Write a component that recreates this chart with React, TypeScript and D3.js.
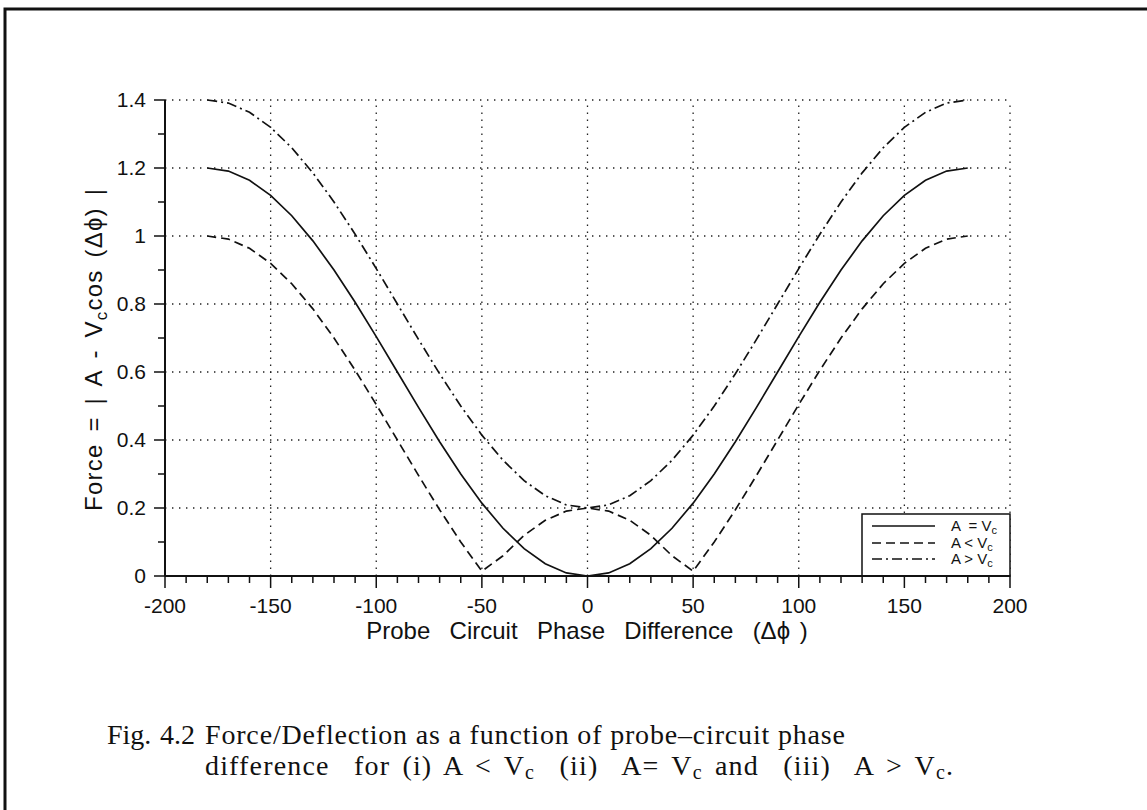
import React from 'react';
import * as d3 from 'd3';

// phase difference (degrees), sampled every 10
const phase = [-180, -170, -160, -150, -140, -130, -120, -110, -100, -90, -80, -70, -60, -50, -40, -30, -20, -10, 0,
  10, 20, 30, 40, 50, 60, 70, 80, 90, 100, 110, 120, 130, 140, 150, 160, 170, 180];

// A = Vc
const forceEqual = [1.2, 1.1909, 1.1638, 1.1196, 1.0596, 0.9857, 0.9, 0.8052, 0.7042, 0.6, 0.4958, 0.3948, 0.3, 0.2143,
  0.1404, 0.0804, 0.0362, 0.0091, 0, 0.0091, 0.0362, 0.0804, 0.1404, 0.2143, 0.3, 0.3948, 0.4958, 0.6, 0.7042, 0.8052,
  0.9, 0.9857, 1.0596, 1.1196, 1.1638, 1.1909, 1.2];
// A < Vc
const forceLess = [1.0, 0.9909, 0.9638, 0.9196, 0.8596, 0.7857, 0.7, 0.6052, 0.5042, 0.4, 0.2958, 0.1948, 0.1, 0.0143,
  0.0596, 0.1196, 0.1638, 0.1909, 0.2, 0.1909, 0.1638, 0.1196, 0.0596, 0.0143, 0.1, 0.1948, 0.2958, 0.4, 0.5042, 0.6052,
  0.7, 0.7857, 0.8596, 0.9196, 0.9638, 0.9909, 1.0];
// A > Vc
const forceGreater = [1.4, 1.3909, 1.3638, 1.3196, 1.2596, 1.1857, 1.1, 1.0052, 0.9042, 0.8, 0.6958, 0.5948, 0.5, 0.4143,
  0.3404, 0.2804, 0.2362, 0.2091, 0.2, 0.2091, 0.2362, 0.2804, 0.3404, 0.4143, 0.5, 0.5948, 0.6958, 0.8, 0.9042, 1.0052,
  1.1, 1.1857, 1.2596, 1.3196, 1.3638, 1.3909, 1.4];

const xTicks = [-200, -150, -100, -50, 0, 50, 100, 150, 200];
const xMinor = d3.range(-200, 201, 10);
const yTicks = [0, 0.2, 0.4, 0.6, 0.8, 1, 1.2, 1.4];
const yMinor = d3.range(0, 1.41, 0.1);
const legendNames = [' =', '<', '>'];

const sans = '"Liberation Sans", Arial, sans-serif';
const serif = '"Liberation Serif", "Times New Roman", serif';

const App: React.FC = () => {
  const x = d3.scaleLinear().domain([-200, 200]).range([165, 1010]);
  const y = d3.scaleLinear().domain([0, 1.4]).range([576, 100]);
  const line = (vals: number[]) =>
    d3.line<number>().x((_, i) => x(phase[i])).y(d => y(d))(vals) || '';

  const series = [
    { vals: forceEqual, dash: 'none' },
    { vals: forceLess, dash: '9,5' },
    { vals: forceGreater, dash: '10,4,2,4' },
  ];

  const lx0 = 872, lx1 = 935, ly = [526, 543, 559];

  return (
    <svg width={1147} height={810} style={{ position: 'absolute', left: 0, top: 0, background: '#fff' }}>
      {/* page frame */}
      <path d="M5,820 L5,9 L1160,9" fill="none" stroke="#111" strokeWidth={3} />

      {/* grid */}
      {xTicks.filter(t => t > -200).map(t => (
        <line key={'gx' + t} x1={x(t)} x2={x(t)} y1={y(0)} y2={y(1.4)} stroke="#222" strokeWidth={1.3} strokeDasharray="1.4,5.6" />
      ))}
      {yTicks.filter(t => t > 0).map(t => (
        <line key={'gy' + t} x1={x(-200)} x2={x(200)} y1={y(t)} y2={y(t)} stroke="#222" strokeWidth={1.3} strokeDasharray="1.4,5.6" />
      ))}

      {/* curves */}
      {series.map((s, i) => (
        <path key={i} d={line(s.vals)} fill="none" stroke="#111" strokeWidth={1.7} strokeDasharray={s.dash} />
      ))}

      {/* legend */}
      <rect x={862} y={514} width={x(200) - 862} height={y(0) - 514} fill="#fff" stroke="#111" strokeWidth={1.5} />
      {series.map((s, i) => (
        <g key={'lg' + i}>
          <line x1={lx0} x2={lx1} y1={ly[i]} y2={ly[i]} stroke="#111" strokeWidth={1.7} strokeDasharray={s.dash} />
          <text x={951} y={ly[i] + 5} fontFamily={sans} fontSize={15} fill="#111" style={{ whiteSpace: 'pre' }}>
            {'A ' + legendNames[i] + ' V'}
            <tspan fontSize={11} dy={3}>c</tspan>
          </text>
        </g>
      ))}

      {/* axes */}
      <line x1={x(-200)} x2={x(200)} y1={y(0)} y2={y(0)} stroke="#111" strokeWidth={2} />
      <line x1={x(-200)} x2={x(-200)} y1={y(0)} y2={y(1.4)} stroke="#111" strokeWidth={2} />
      {xMinor.map(t => (
        <line key={'xm' + t} x1={x(t)} x2={x(t)} y1={y(0)} y2={y(0) + (t % 50 === 0 ? 12 : 7)} stroke="#111" strokeWidth={1.5} />
      ))}
      {yMinor.map((t, i) => (
        <line key={'ym' + i} x1={x(-200) - (i % 2 === 0 ? 11 : 7)} x2={x(-200)} y1={y(t)} y2={y(t)} stroke="#111" strokeWidth={1.5} />
      ))}
      {xTicks.map(t => (
        <text key={'xl' + t} x={x(t)} y={613} textAnchor="middle" fontFamily={sans} fontSize={21} fill="#111">{t}</text>
      ))}
      {yTicks.map(t => (
        <text key={'yl' + t} x={146} y={y(t) + 7} textAnchor="end" fontFamily={sans} fontSize={21} fill="#111">{d3.format('~g')(t)}</text>
      ))}

      {/* axis titles */}
      <text x={587} y={639} textAnchor="middle" fontFamily={sans} fontSize={24} fill="#111" style={{ whiteSpace: 'pre', wordSpacing: 3 }}>
        {'Probe  Circuit  Phase  Difference  (Δϕ )'}
      </text>
      <text transform="translate(102,350) rotate(-90)" textAnchor="middle" fontFamily={sans} fontSize={24} fill="#111"
        style={{ whiteSpace: 'pre', wordSpacing: 4 }} textLength={322} lengthAdjust="spacing">
        {'Force = | A - V'}
        <tspan fontSize={17} dy={5}>c</tspan>
        <tspan dy={-5}>{'cos (Δϕ) |'}</tspan>
      </text>

      {/* caption */}
      <text x={107} y={744} fontFamily={serif} fontSize={28} fill="#111">Fig.</text>
      <text x={160} y={744} fontFamily={serif} fontSize={28} fill="#111">4.2</text>
      <text x={205} y={744} fontFamily={serif} fontSize={28} fill="#111" textLength={640} lengthAdjust="spacing">
        Force/Deflection as a function of probe–circuit phase
      </text>
      <text x={205} y={775} fontFamily={serif} fontSize={28} fill="#111" style={{ whiteSpace: 'pre', wordSpacing: 4 }}
        textLength={748} lengthAdjust="spacing">
        {'difference  for (i) A < V'}
        <tspan fontSize={20} dy={4}>c</tspan>
        <tspan dy={-4}>{'  (ii)  A= V'}</tspan>
        <tspan fontSize={20} dy={4}>c</tspan>
        <tspan dy={-4}>{' and  (iii)  A > V'}</tspan>
        <tspan fontSize={20} dy={4}>c</tspan>
        <tspan dy={-4}>.</tspan>
      </text>
    </svg>
  );
};

export default App;
